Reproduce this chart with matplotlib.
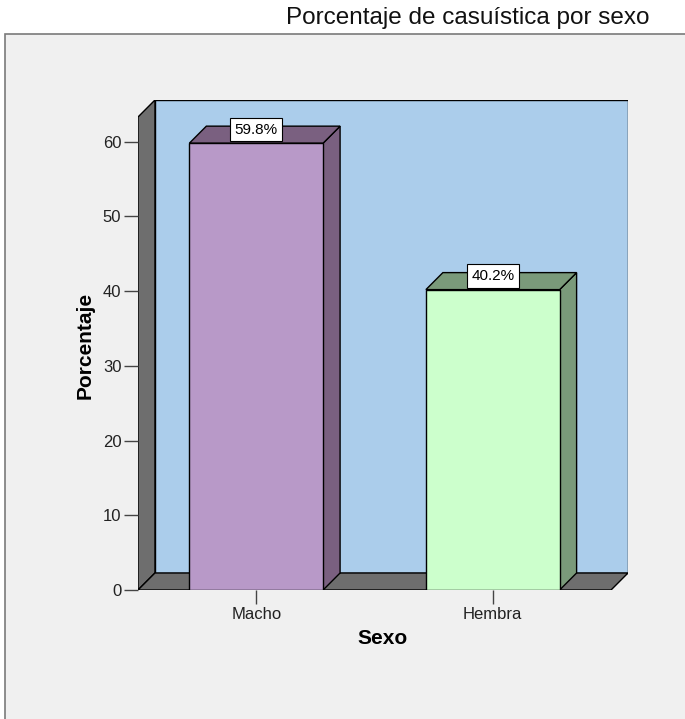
import matplotlib.pyplot as plt
from matplotlib.patches import Polygon, Rectangle

categories = ['Macho', 'Hembra']
porcentajes = [59.8, 40.2]
etiquetas = ['59.8%', '40.2%']
yticks = [0, 10, 20, 30, 40, 50, 60]

colores_frente = ['#b899c8', '#ccffcc']
colores_lado = ['#7a6080', '#7a9a7a']

plt.rcParams['font.family'] = ['Liberation Sans', 'DejaVu Sans']

fig = plt.figure(figsize=(6.85, 7.19), dpi=100)
fig.patch.set_facecolor('white')

# marco gris exterior
fig.patches.append(Rectangle((5 / 685, -0.01), 1.2, 1 - 34 / 719 + 0.01,
                             transform=fig.transFigure, facecolor='#f0f0f0',
                             edgecolor='#7a7a7a', linewidth=1.2, zorder=-5))

fig.text(650 / 685, 1 - 18 / 719, 'Porcentaje de casuística por sexo',
         ha='right', va='center', fontsize=17.5, color='#111111')

# ejes: el plano frontal va de x=-0.5 a 1.5, la profundidad se anade a la derecha/arriba
px_x = 237.0
px_y = 74.67 / 10
dx = 17 / px_x
dy = 17 / px_y
ymax = 63.3

ax = fig.add_axes([138 / 685, 1 - 590 / 719, (628 - 138) / 685, (590 - 100) / 719])
ax.set_xlim(-0.5, 1.5 + dx)
ax.set_ylim(0, ymax + dy)
ax.patch.set_visible(False)

x0, x1 = -0.5, 1.5
lw = 1.0
# pared de fondo
ax.add_patch(Polygon([(x0 + dx, dy), (x1 + dx, dy), (x1 + dx, ymax + dy), (x0 + dx, ymax + dy)],
                     facecolor='#abcdeb', edgecolor='black', linewidth=lw, zorder=1))
# pared izquierda
ax.add_patch(Polygon([(x0, 0), (x0 + dx, dy), (x0 + dx, ymax + dy), (x0, ymax)],
                     facecolor='#6e6e6e', edgecolor='black', linewidth=lw, zorder=1))
# suelo
ax.add_patch(Polygon([(x0, 0), (x1, 0), (x1 + dx, dy), (x0 + dx, dy)],
                     facecolor='#6e6e6e', edgecolor='black', linewidth=lw, zorder=1))

w = 134 / px_x
for i, (cat, v) in enumerate(zip(categories, porcentajes)):
    a, b = i - w / 2, i + w / 2
    ax.add_patch(Polygon([(b, 0), (b + dx, dy), (b + dx, v + dy), (b, v)],
                         facecolor=colores_lado[i], edgecolor='black', linewidth=lw, zorder=3))
    ax.add_patch(Polygon([(a, v), (a + dx, v + dy), (b + dx, v + dy), (b, v)],
                         facecolor=colores_lado[i], edgecolor='black', linewidth=lw, zorder=3))
    ax.add_patch(Rectangle((a, 0), w, v, facecolor=colores_frente[i],
                           edgecolor='black', linewidth=lw, zorder=4))
    ax.text(i, v + dy * 0.8, etiquetas[i], ha='center', va='center', fontsize=11,
            zorder=6, bbox=dict(boxstyle='square,pad=0.3', facecolor='white',
                                edgecolor='black', linewidth=0.8))

for s in ax.spines:
    ax.spines[s].set_visible(False)

ax.set_yticks(yticks)
ax.set_yticklabels([str(t) for t in yticks])
ax.set_xticks(range(len(categories)))
ax.set_xticklabels(categories)
ax.tick_params(axis='both', direction='out', length=10, width=1, color='#444444',
               labelsize=12, labelcolor='#222222', pad=2)

ax.set_ylabel('Porcentaje', fontsize=15, fontweight='bold', labelpad=6)
ax.set_xlabel('Sexo', fontsize=15, fontweight='bold', labelpad=5)

fig.savefig('out.png', dpi=100)
